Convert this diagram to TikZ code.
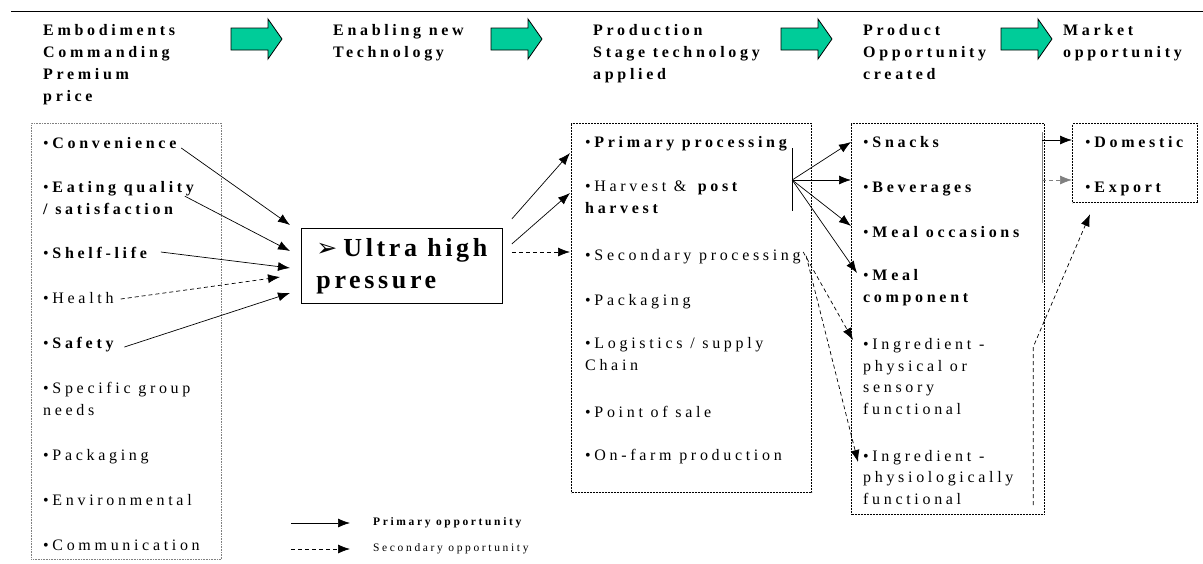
\documentclass[tikz,border=0pt]{standalone}
\usepackage{fontspec}
\setmainfont{Liberation Serif}[LetterSpace=23]
\newfontfamily\symfont{DejaVu Sans}
\newfontfamily\uhpfont{Liberation Serif}[LetterSpace=14]
\usetikzlibrary{arrows.meta,calc}
\definecolor{garr}{RGB}{0,204,153}
\begin{document}
\begin{tikzpicture}[x=1pt,y=-1pt,
  item/.style={anchor=base west, align=left, inner sep=0pt, font=\fontsize{16}{21.5}\selectfont},
  head/.style={item, font=\bfseries\fontsize{16}{22}\selectfont},
  legtext/.style={anchor=base west, inner sep=0pt, font=\fontsize{11.5}{13}\selectfont},
  lboxst/.style={draw=gray, densely dotted, line width=0.6pt, anchor=north west, inner sep=0pt},
  dboxst/.style={draw, line width=1.2pt, dash pattern=on 2pt off 1pt, anchor=north west, inner sep=0pt},
  uhpst/.style={draw, line width=0.8pt, anchor=north west, minimum width=201, minimum height=75,
     align=left, inner sep=0pt, font=\uhpfont\bfseries\fontsize{26}{32}\selectfont},
  prim/.style={-{Latex[length=12pt,width=9pt]}, line width=0.7pt},
  sec/.style={prim, dash pattern=on 4pt off 3pt},
  garrow/.pic={\draw[fill=garr, line width=0.8pt] (0,-11) -- (37,-11) -- (37,-20) -- (51,0) -- (37,20) -- (37,11) -- (0,11) -- cycle;}
]
\useasboundingbox (0,0) rectangle (1203,563);
\draw[line width=1pt] (11,11) -- (1203,11);

% headers (anchor = baseline of last line)
\node[head] (h1) at (43,101) {Embodiments\\Commanding\\Premium\\price};
\node[head] (h2) at (333,57) {Enabling new\\Technology};
\node[head] (h3) at (593,79) {Production\\Stage technology\\applied};
\node[head] (h4) at (863,79) {Product\\Opportunity\\created};
\node[head] (h5) at (1063,57) {Market\\opportunity};
\pic at (231,39) {garrow};
\pic at (491,39) {garrow};
\pic at (781,39) {garrow};
\pic at (1001,39) {garrow};

% boxes
\node[lboxst, minimum width=190, minimum height=436] (lbox) at (31,123) {};
\node[dboxst, minimum width=240, minimum height=369] (pbox) at (571,123) {};
\node[dboxst, minimum width=193, minimum height=391] (qbox) at (851,123) {};
\node[dboxst, minimum width=125, minimum height=79] (mbox) at (1072,123) {};
\node[uhpst] (uhp) at (301,228) {{\symfont\mdseries\fontsize{25}{32}\selectfont ➢}\hspace{6pt}Ultra high\\pressure};

% left items
\node[item] (conv) at (43,148) {•\textbf{Convenience}};
\node[item] (eat) at (43,214) {•\textbf{Eating quality}\\\textbf{/ satisfaction}};
\node[item] (shelf) at (43,258) {•\textbf{Shelf-life}};
\node[item] (health) at (43,303) {•Health};
\node[item] (safety) at (43,348) {•\textbf{Safety}};
\node[item] (spec) at (43,415) {•Specific group\\needs};
\node[item] (pack) at (43,460) {•Packaging};
\node[item] (env) at (43,505) {•Environmental};
\node[item] (comm) at (43,550) {•Communication};

% production items
\node[item] (primp) at (585,147) {•\textbf{Primary processing}};
\node[item] (harv) at (585,213) {•Harvest \& \textbf{post}\\\textbf{harvest}};
\node[item] (secp) at (585,260) {•Secondary processing};
\node[item] (pack2) at (585,305) {•Packaging};
\node[item] (logi) at (585,370) {•Logistics / supply\\Chain};
\node[item] (pos) at (585,417) {•Point of sale};
\node[item] (farm) at (585,460) {•On-farm production};

% product items
\node[item] (snack) at (863,147) {•\textbf{Snacks}};
\node[item] (bev) at (863,192) {•\textbf{Beverages}};
\node[item] (mocc) at (863,237) {•\textbf{Meal occasions}};
\node[item] (mcomp) at (863,302) {•\textbf{Meal}\\\textbf{component}};
\node[item] (ing1) at (863,414) {•Ingredient -\\physical or\\sensory\\functional};
\node[item] (ing2) at (863,504) {•Ingredient -\\physiologically\\functional};

% market items
\node[item] (dom) at (1085,147) {•\textbf{Domestic}};
\node[item] (exp) at (1085,192) {•\textbf{Export}};

% left -> UHP
\draw[prim] ($(conv.base east)+(1,0)$) -- ($(uhp.north west)+(-11,-3)$);
\draw[prim] ($(eat.north east)+(-13,15)$) -- ($(uhp.north west)+(-11,23)$);
\draw[prim] ($(shelf.base east)+(10,-6)$) -- ($(uhp.north west)+(-11,40)$);
\draw[sec] ($(health.base east)+(7,-4)$) -- ($(uhp.north west)+(-21,49)$);
\draw[prim] ($(safety.base east)+(7,-1)$) -- ($(uhp.north west)+(-11,65)$);

% UHP -> production
\draw[prim] ($(uhp.north east)+(9,-9)$) -- ($(pbox.north west)+(-1,30)$);
\draw[prim] ($(uhp.north east)+(9,16)$) -- ($(pbox.north west)+(-1,70)$);
\draw[sec] ($(uhp.north east)+(9,24)$) -- ($(pbox.north west)+(-1,129)$);

% fan production -> product
\coordinate (fan) at ($(pbox.north east)+(-20,57)$);
\draw[line width=0.8pt] ($(fan)+(0,-32)$) -- ($(fan)+(0,31)$);
\draw[prim] (fan) -- ($(qbox.north west)+(0,19)$);
\draw[prim] (fan) -- ($(qbox.north west)+(0,57)$);
\draw[prim] (fan) -- ($(qbox.north west)+(0,103)$);
\draw[prim] (fan) -- ($(qbox.north west)+(6,150)$);

% secondary processing -> ingredients
\coordinate (secs) at ($(pbox.north east)+(-9,129)$);
\draw[sec] (secs) -- ($(qbox.north west)+(2,217)$);
\draw[sec] ($(secs)+(3,4)$) -- ($(qbox.north west)+(7,339)$);

% product -> market
\coordinate (mbar) at ($(qbox.north east)+(-3,9)$);
\draw[gray, line width=1.2pt] (mbar) -- ($(mbar)+(0,151)$);
\draw[prim] ($(mbar)+(0,8)$) -- ($(mbox.north west)+(0,17)$);
\draw[sec, gray] ($(mbar)+(0,48)$) -- ($(mbox.north west)+(0,57)$);
\coordinate (ingbar) at ($(qbox.north east)+(-12,382)$);
\draw[sec] (ingbar) -- ($(ingbar)+(0,-158)$) -- ($(mbox.south west)+(18,11)$);

% legend
\node[legtext] (legp) at (373,525) {\textbf{Primary opportunity}};
\node[legtext] (legs) at (373,551) {Secondary opportunity};
\draw[prim] ($(legp.base west)+(-82,-2)$) -- ($(legp.base west)+(-23,-2)$);
\draw[sec] ($(legs.base west)+(-82,-2)$) -- ($(legs.base west)+(-23,-2)$);
\end{tikzpicture}
\end{document}
